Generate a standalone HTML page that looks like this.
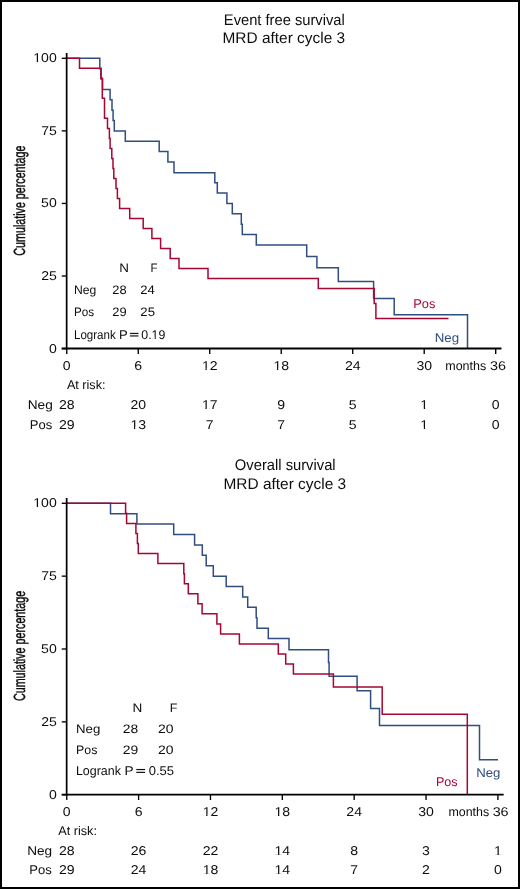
<!DOCTYPE html>
<html><head><meta charset="utf-8"><style>
html,body{margin:0;padding:0;background:#fff;}
#c{position:relative;width:520px;height:889px;box-sizing:border-box;border:2px solid #000;background:#fff;overflow:hidden;}
svg{position:absolute;left:-2px;top:-2px;will-change:transform;}
text{font-family:"Liberation Sans",sans-serif;text-rendering:geometricPrecision;}
</style></head><body><div id="c"><svg width="520" height="889" viewBox="0 0 520 889">
<path d="M66.75,58.30H99.80V68.66H101.00V79.03H102.60V89.39H110.10V99.78H112.00V110.15H113.10V120.51H114.30V130.88H125.30V141.24H159.20V151.60H167.90V161.97H174.00V172.65H214.80V182.72H217.30V193.09H226.90V203.45H232.30V213.81H241.30V224.18H242.30V234.54H256.30V244.93H306.70V256.50H316.90V267.80H338.30V281.50H373.60V298.60H394.20V314.70H467.50V348.60" fill="none" stroke="#304e80" stroke-width="1.5" stroke-linejoin="miter" stroke-linecap="butt"/>
<path d="M66.75,58.30H79.50V68.32H101.00V78.33H102.30V98.33H104.50V118.36H107.50V128.38H109.40V138.39H110.10V148.38H111.80V158.40H113.00V168.41H113.80V178.43H116.00V188.44H117.40V198.46H119.60V208.44H129.70V218.46H143.20V228.47H151.90V238.49H160.60V248.50H170.20V258.52H179.00V268.51H208.00V278.52H318.30V288.54H374.20V303.55H375.90V318.58H448.50" fill="none" stroke="#a50732" stroke-width="1.5" stroke-linejoin="miter" stroke-linecap="butt"/>
<line x1="66.65" y1="52.9" x2="66.65" y2="349.40000000000003" stroke="#000" stroke-width="1.7"/>
<line x1="61.75" y1="348.5" x2="501.5" y2="348.5" stroke="#000" stroke-width="1.8"/>
<line x1="61.75" y1="348.6" x2="66.75" y2="348.6" stroke="#000" stroke-width="1.35"/>
<line x1="61.75" y1="276.02500000000003" x2="66.75" y2="276.02500000000003" stroke="#000" stroke-width="1.35"/>
<line x1="61.75" y1="203.45000000000002" x2="66.75" y2="203.45000000000002" stroke="#000" stroke-width="1.35"/>
<line x1="61.75" y1="130.87500000000003" x2="66.75" y2="130.87500000000003" stroke="#000" stroke-width="1.35"/>
<line x1="61.75" y1="58.30000000000001" x2="66.75" y2="58.30000000000001" stroke="#000" stroke-width="1.35"/>
<line x1="66.75" y1="348.6" x2="66.75" y2="353.90000000000003" stroke="#000" stroke-width="1.35"/>
<line x1="138.24166666666667" y1="348.6" x2="138.24166666666667" y2="353.90000000000003" stroke="#000" stroke-width="1.35"/>
<line x1="209.73333333333332" y1="348.6" x2="209.73333333333332" y2="353.90000000000003" stroke="#000" stroke-width="1.35"/>
<line x1="281.225" y1="348.6" x2="281.225" y2="353.90000000000003" stroke="#000" stroke-width="1.35"/>
<line x1="352.71666666666664" y1="348.6" x2="352.71666666666664" y2="353.90000000000003" stroke="#000" stroke-width="1.35"/>
<line x1="424.2083333333333" y1="348.6" x2="424.2083333333333" y2="353.90000000000003" stroke="#000" stroke-width="1.35"/>
<line x1="495.7" y1="348.6" x2="495.7" y2="353.90000000000003" stroke="#000" stroke-width="1.35"/>
<path d="M66.75,503.30H110.50V513.70H136.90V524.11H173.70V534.51H194.60V544.94H202.30V555.34H206.20V565.75H213.30V576.15H226.20V586.55H242.70V596.96H247.70V607.36H256.20V617.79H257.00V628.19H268.30V638.60H289.00V649.80H328.50V662.60H329.10V676.30H357.10V690.70H370.60V708.40H379.50V725.50H479.50V759.80H498.00" fill="none" stroke="#304e80" stroke-width="1.5" stroke-linejoin="miter" stroke-linecap="butt"/>
<path d="M66.75,503.30H125.60V513.35H126.60V523.41H135.90V533.43H137.40V543.48H138.30V553.54H157.90V563.59H183.80V573.64H184.40V583.70H188.30V593.72H197.90V603.77H202.10V613.83H216.90V623.88H220.60V633.93H239.40V643.99H278.30V654.01H285.70V664.07H293.40V674.12H333.40V687.10H382.20V714.30H467.30V794.70" fill="none" stroke="#a50732" stroke-width="1.5" stroke-linejoin="miter" stroke-linecap="butt"/>
<line x1="66.65" y1="497.90000000000003" x2="66.65" y2="795.5" stroke="#000" stroke-width="1.7"/>
<line x1="61.75" y1="794.6" x2="503.7" y2="794.6" stroke="#000" stroke-width="1.8"/>
<line x1="61.75" y1="794.7" x2="66.75" y2="794.7" stroke="#000" stroke-width="1.35"/>
<line x1="61.75" y1="721.85" x2="66.75" y2="721.85" stroke="#000" stroke-width="1.35"/>
<line x1="61.75" y1="649.0" x2="66.75" y2="649.0" stroke="#000" stroke-width="1.35"/>
<line x1="61.75" y1="576.15" x2="66.75" y2="576.15" stroke="#000" stroke-width="1.35"/>
<line x1="61.75" y1="503.3" x2="66.75" y2="503.3" stroke="#000" stroke-width="1.35"/>
<line x1="66.75" y1="794.7" x2="66.75" y2="800.0" stroke="#000" stroke-width="1.35"/>
<line x1="138.60833333333332" y1="794.7" x2="138.60833333333332" y2="800.0" stroke="#000" stroke-width="1.35"/>
<line x1="210.46666666666664" y1="794.7" x2="210.46666666666664" y2="800.0" stroke="#000" stroke-width="1.35"/>
<line x1="282.325" y1="794.7" x2="282.325" y2="800.0" stroke="#000" stroke-width="1.35"/>
<line x1="354.1833333333333" y1="794.7" x2="354.1833333333333" y2="800.0" stroke="#000" stroke-width="1.35"/>
<line x1="426.0416666666667" y1="794.7" x2="426.0416666666667" y2="800.0" stroke="#000" stroke-width="1.35"/>
<line x1="497.9" y1="794.7" x2="497.9" y2="800.0" stroke="#000" stroke-width="1.35"/>
<g transform="translate(223.82,24.50) scale(0.9555,1)"><text font-size="15.4" fill="#0d0d0d">Event free survival</text></g>
<g transform="translate(222.52,43.00) scale(1.0020,1)"><text font-size="15.4" fill="#0d0d0d">MRD after cycle 3</text></g>
<g transform="translate(33.25,62.20) scale(1.1000,1)"><text font-size="12.8" fill="#0d0d0d">100</text><rect x="0.56" y="-1.26" width="2.64" height="2.16" fill="#fff"/><rect x="4.37" y="-1.26" width="2.57" height="2.16" fill="#fff"/></g>
<g transform="translate(41.13,134.78) scale(1.1000,1)"><text font-size="12.8" fill="#0d0d0d">75</text></g>
<g transform="translate(41.06,207.35) scale(1.1000,1)"><text font-size="12.8" fill="#0d0d0d">50</text></g>
<g transform="translate(41.13,279.93) scale(1.1000,1)"><text font-size="12.8" fill="#0d0d0d">25</text></g>
<g transform="translate(48.88,352.50) scale(1.1000,1)"><text font-size="12.8" fill="#0d0d0d">0</text></g>
<g transform="translate(66.75,369.70) scale(1.1000,1)"><text font-size="12.8" fill="#0d0d0d" text-anchor="middle">0</text></g>
<g transform="translate(138.24,369.70) scale(1.1000,1)"><text font-size="12.8" fill="#0d0d0d" text-anchor="middle">6</text></g>
<g transform="translate(209.73,369.70) scale(1.1000,1)"><text font-size="12.8" fill="#0d0d0d" text-anchor="middle">12</text><rect x="-6.56" y="-1.26" width="2.64" height="2.16" fill="#fff"/><rect x="-2.75" y="-1.26" width="2.57" height="2.16" fill="#fff"/></g>
<g transform="translate(281.23,369.70) scale(1.1000,1)"><text font-size="12.8" fill="#0d0d0d" text-anchor="middle">18</text><rect x="-6.56" y="-1.26" width="2.64" height="2.16" fill="#fff"/><rect x="-2.75" y="-1.26" width="2.57" height="2.16" fill="#fff"/></g>
<g transform="translate(352.72,369.70) scale(1.1000,1)"><text font-size="12.8" fill="#0d0d0d" text-anchor="middle">24</text></g>
<g transform="translate(424.21,369.70) scale(1.1000,1)"><text font-size="12.8" fill="#0d0d0d" text-anchor="middle">30</text></g>
<g transform="translate(445.29,369.80) scale(0.9908,1)"><text font-size="12.6" fill="#0d0d0d">months</text></g>
<g transform="translate(489.93,369.80) scale(1.1404,1)"><text font-size="12.6" fill="#0d0d0d">36</text></g>
<g transform="translate(66.90,389.00) scale(1.0038,1)"><text font-size="12.6" fill="#0d0d0d">At risk:</text></g>
<g transform="translate(27.71,409.20) scale(1.0848,1)"><text font-size="12.6" fill="#0d0d0d">Neg</text></g>
<g transform="translate(29.86,428.50) scale(1.0352,1)"><text font-size="12.6" fill="#0d0d0d">Pos</text></g>
<g transform="translate(66.75,409.20) scale(1.1000,1)"><text font-size="12.8" fill="#0d0d0d" text-anchor="middle">28</text></g>
<g transform="translate(138.24,409.20) scale(1.1000,1)"><text font-size="12.8" fill="#0d0d0d" text-anchor="middle">20</text></g>
<g transform="translate(209.73,409.20) scale(1.1000,1)"><text font-size="12.8" fill="#0d0d0d" text-anchor="middle">17</text><rect x="-6.56" y="-1.26" width="2.64" height="2.16" fill="#fff"/><rect x="-2.75" y="-1.26" width="2.57" height="2.16" fill="#fff"/></g>
<g transform="translate(281.23,409.20) scale(1.1000,1)"><text font-size="12.8" fill="#0d0d0d" text-anchor="middle">9</text></g>
<g transform="translate(352.72,409.20) scale(1.1000,1)"><text font-size="12.8" fill="#0d0d0d" text-anchor="middle">5</text></g>
<g transform="translate(424.21,409.20) scale(1.1000,1)"><text font-size="12.8" fill="#0d0d0d" text-anchor="middle">1</text><rect x="-3.00" y="-1.26" width="2.64" height="2.16" fill="#fff"/><rect x="0.81" y="-1.26" width="2.57" height="2.16" fill="#fff"/></g>
<g transform="translate(495.70,409.20) scale(1.1000,1)"><text font-size="12.8" fill="#0d0d0d" text-anchor="middle">0</text></g>
<g transform="translate(66.75,428.50) scale(1.1000,1)"><text font-size="12.8" fill="#0d0d0d" text-anchor="middle">29</text></g>
<g transform="translate(138.24,428.50) scale(1.1000,1)"><text font-size="12.8" fill="#0d0d0d" text-anchor="middle">13</text><rect x="-6.56" y="-1.26" width="2.64" height="2.16" fill="#fff"/><rect x="-2.75" y="-1.26" width="2.57" height="2.16" fill="#fff"/></g>
<g transform="translate(209.73,428.50) scale(1.1000,1)"><text font-size="12.8" fill="#0d0d0d" text-anchor="middle">7</text></g>
<g transform="translate(281.23,428.50) scale(1.1000,1)"><text font-size="12.8" fill="#0d0d0d" text-anchor="middle">7</text></g>
<g transform="translate(352.72,428.50) scale(1.1000,1)"><text font-size="12.8" fill="#0d0d0d" text-anchor="middle">5</text></g>
<g transform="translate(424.21,428.50) scale(1.1000,1)"><text font-size="12.8" fill="#0d0d0d" text-anchor="middle">1</text><rect x="-3.00" y="-1.26" width="2.64" height="2.16" fill="#fff"/><rect x="0.81" y="-1.26" width="2.57" height="2.16" fill="#fff"/></g>
<g transform="translate(495.70,428.50) scale(1.1000,1)"><text font-size="12.8" fill="#0d0d0d" text-anchor="middle">0</text></g>
<g transform="translate(119.23,272.00) scale(1.0889,1)"><text font-size="12.3" fill="#0d0d0d">N</text></g>
<g transform="translate(150.39,272.00) scale(0.9292,1)"><text font-size="12.3" fill="#0d0d0d">F</text></g>
<g transform="translate(73.88,294.10) scale(0.9886,1)"><text font-size="12.3" fill="#0d0d0d">Neg</text></g>
<g transform="translate(112.26,294.10) scale(1.0442,1)"><text font-size="12.3" fill="#0d0d0d">28</text></g>
<g transform="translate(140.35,294.10) scale(1.0577,1)"><text font-size="12.3" fill="#0d0d0d">24</text></g>
<g transform="translate(73.92,316.00) scale(0.9494,1)"><text font-size="12.3" fill="#0d0d0d">Pos</text></g>
<g transform="translate(112.25,316.00) scale(1.0493,1)"><text font-size="12.3" fill="#0d0d0d">29</text></g>
<g transform="translate(140.34,316.00) scale(1.0681,1)"><text font-size="12.3" fill="#0d0d0d">25</text></g>
<g transform="translate(73.98,338.60) scale(0.9171,1)"><text font-size="12.6" fill="#0d0d0d">Logrank</text></g>
<g transform="translate(119.05,338.60) scale(1.0384,1)"><text font-size="12.6" fill="#0d0d0d">P</text></g>
<rect x="129.90" y="332.85" width="8.60" height="3.65" fill="#0d0d0d" fill-opacity="0.08"/>
<rect x="129.90" y="332.85" width="8.60" height="1.1" fill="#0d0d0d"/>
<rect x="129.90" y="335.40" width="8.60" height="1.1" fill="#0d0d0d"/>
<g transform="translate(141.31,338.60) scale(0.9814,1)"><text font-size="12.6" fill="#0d0d0d">0.19</text><rect x="11.06" y="-1.24" width="2.60" height="2.14" fill="#fff"/><rect x="14.81" y="-1.24" width="2.53" height="2.14" fill="#fff"/></g>
<g transform="translate(413.17,307.70) scale(1.0204,1)"><text font-size="12.6" fill="#a50732">Pos</text></g>
<g transform="translate(434.63,342.30) scale(1.0566,1)"><text font-size="12.6" fill="#304e80">Neg</text></g>
<g transform="translate(234.84,469.90) scale(0.9579,1)"><text font-size="15.4" fill="#0d0d0d">Overall survival</text></g>
<g transform="translate(223.46,488.70) scale(1.0033,1)"><text font-size="15.4" fill="#0d0d0d">MRD after cycle 3</text></g>
<g transform="translate(33.25,507.20) scale(1.1000,1)"><text font-size="12.8" fill="#0d0d0d">100</text><rect x="0.56" y="-1.26" width="2.64" height="2.16" fill="#fff"/><rect x="4.37" y="-1.26" width="2.57" height="2.16" fill="#fff"/></g>
<g transform="translate(41.13,580.05) scale(1.1000,1)"><text font-size="12.8" fill="#0d0d0d">75</text></g>
<g transform="translate(41.06,652.90) scale(1.1000,1)"><text font-size="12.8" fill="#0d0d0d">50</text></g>
<g transform="translate(41.13,725.75) scale(1.1000,1)"><text font-size="12.8" fill="#0d0d0d">25</text></g>
<g transform="translate(48.88,798.60) scale(1.1000,1)"><text font-size="12.8" fill="#0d0d0d">0</text></g>
<g transform="translate(66.75,815.90) scale(1.1000,1)"><text font-size="12.8" fill="#0d0d0d" text-anchor="middle">0</text></g>
<g transform="translate(138.61,815.90) scale(1.1000,1)"><text font-size="12.8" fill="#0d0d0d" text-anchor="middle">6</text></g>
<g transform="translate(210.47,815.90) scale(1.1000,1)"><text font-size="12.8" fill="#0d0d0d" text-anchor="middle">12</text><rect x="-6.56" y="-1.26" width="2.64" height="2.16" fill="#fff"/><rect x="-2.75" y="-1.26" width="2.57" height="2.16" fill="#fff"/></g>
<g transform="translate(282.32,815.90) scale(1.1000,1)"><text font-size="12.8" fill="#0d0d0d" text-anchor="middle">18</text><rect x="-6.56" y="-1.26" width="2.64" height="2.16" fill="#fff"/><rect x="-2.75" y="-1.26" width="2.57" height="2.16" fill="#fff"/></g>
<g transform="translate(354.18,815.90) scale(1.1000,1)"><text font-size="12.8" fill="#0d0d0d" text-anchor="middle">24</text></g>
<g transform="translate(426.04,815.90) scale(1.1000,1)"><text font-size="12.8" fill="#0d0d0d" text-anchor="middle">30</text></g>
<g transform="translate(448.39,815.90) scale(0.9858,1)"><text font-size="12.6" fill="#0d0d0d">months</text></g>
<g transform="translate(492.63,815.90) scale(1.1404,1)"><text font-size="12.6" fill="#0d0d0d">36</text></g>
<g transform="translate(58.30,835.20) scale(1.0038,1)"><text font-size="12.6" fill="#0d0d0d">At risk:</text></g>
<g transform="translate(27.21,855.40) scale(1.0801,1)"><text font-size="12.6" fill="#0d0d0d">Neg</text></g>
<g transform="translate(29.26,874.40) scale(1.0352,1)"><text font-size="12.6" fill="#0d0d0d">Pos</text></g>
<g transform="translate(66.75,855.40) scale(1.1000,1)"><text font-size="12.8" fill="#0d0d0d" text-anchor="middle">28</text></g>
<g transform="translate(138.61,855.40) scale(1.1000,1)"><text font-size="12.8" fill="#0d0d0d" text-anchor="middle">26</text></g>
<g transform="translate(210.47,855.40) scale(1.1000,1)"><text font-size="12.8" fill="#0d0d0d" text-anchor="middle">22</text></g>
<g transform="translate(282.32,855.40) scale(1.1000,1)"><text font-size="12.8" fill="#0d0d0d" text-anchor="middle">14</text><rect x="-6.56" y="-1.26" width="2.64" height="2.16" fill="#fff"/><rect x="-2.75" y="-1.26" width="2.57" height="2.16" fill="#fff"/></g>
<g transform="translate(354.18,855.40) scale(1.1000,1)"><text font-size="12.8" fill="#0d0d0d" text-anchor="middle">8</text></g>
<g transform="translate(426.04,855.40) scale(1.1000,1)"><text font-size="12.8" fill="#0d0d0d" text-anchor="middle">3</text></g>
<g transform="translate(497.90,855.40) scale(1.1000,1)"><text font-size="12.8" fill="#0d0d0d" text-anchor="middle">1</text><rect x="-3.00" y="-1.26" width="2.64" height="2.16" fill="#fff"/><rect x="0.81" y="-1.26" width="2.57" height="2.16" fill="#fff"/></g>
<g transform="translate(66.75,874.40) scale(1.1000,1)"><text font-size="12.8" fill="#0d0d0d" text-anchor="middle">29</text></g>
<g transform="translate(138.61,874.40) scale(1.1000,1)"><text font-size="12.8" fill="#0d0d0d" text-anchor="middle">24</text></g>
<g transform="translate(210.47,874.40) scale(1.1000,1)"><text font-size="12.8" fill="#0d0d0d" text-anchor="middle">18</text><rect x="-6.56" y="-1.26" width="2.64" height="2.16" fill="#fff"/><rect x="-2.75" y="-1.26" width="2.57" height="2.16" fill="#fff"/></g>
<g transform="translate(282.32,874.40) scale(1.1000,1)"><text font-size="12.8" fill="#0d0d0d" text-anchor="middle">14</text><rect x="-6.56" y="-1.26" width="2.64" height="2.16" fill="#fff"/><rect x="-2.75" y="-1.26" width="2.57" height="2.16" fill="#fff"/></g>
<g transform="translate(354.18,874.40) scale(1.1000,1)"><text font-size="12.8" fill="#0d0d0d" text-anchor="middle">7</text></g>
<g transform="translate(426.04,874.40) scale(1.1000,1)"><text font-size="12.8" fill="#0d0d0d" text-anchor="middle">2</text></g>
<g transform="translate(497.90,874.40) scale(1.1000,1)"><text font-size="12.8" fill="#0d0d0d" text-anchor="middle">0</text></g>
<g transform="translate(132.61,711.60) scale(1.1034,1)"><text font-size="12.3" fill="#0d0d0d">N</text></g>
<g transform="translate(169.80,711.60) scale(1.0121,1)"><text font-size="12.3" fill="#0d0d0d">F</text></g>
<g transform="translate(76.04,733.00) scale(1.0776,1)"><text font-size="12.3" fill="#0d0d0d">Neg</text></g>
<g transform="translate(122.81,733.00) scale(1.1239,1)"><text font-size="12.3" fill="#0d0d0d">28</text></g>
<g transform="translate(157.90,733.00) scale(1.1342,1)"><text font-size="12.3" fill="#0d0d0d">20</text></g>
<g transform="translate(76.11,753.60) scale(1.0049,1)"><text font-size="12.3" fill="#0d0d0d">Pos</text></g>
<g transform="translate(122.81,753.60) scale(1.1294,1)"><text font-size="12.3" fill="#0d0d0d">29</text></g>
<g transform="translate(157.90,753.60) scale(1.1342,1)"><text font-size="12.3" fill="#0d0d0d">20</text></g>
<g transform="translate(75.90,774.80) scale(0.9724,1)"><text font-size="12.8" fill="#0d0d0d">Logrank</text></g>
<g transform="translate(124.51,774.80) scale(1.0660,1)"><text font-size="12.8" fill="#0d0d0d">P</text></g>
<rect x="136.30" y="768.95" width="8.80" height="4.00" fill="#0d0d0d" fill-opacity="0.08"/>
<rect x="136.30" y="768.95" width="8.80" height="1.1" fill="#0d0d0d"/>
<rect x="136.30" y="771.85" width="8.80" height="1.1" fill="#0d0d0d"/>
<g transform="translate(148.68,774.80) scale(1.0137,1)"><text font-size="12.8" fill="#0d0d0d">0.55</text></g>
<g transform="translate(435.89,785.80) scale(1.0007,1)"><text font-size="12.6" fill="#a50732">Pos</text></g>
<g transform="translate(476.14,776.50) scale(1.0472,1)"><text font-size="12.6" fill="#304e80">Neg</text></g>
<text transform="translate(25.00,255.64) rotate(-90) scale(0.6609,1)" font-size="16.2" fill="#0d0d0d" stroke="#0d0d0d" stroke-width="0.45">Cumulative percentage</text>
<text transform="translate(25.30,701.04) rotate(-90) scale(0.6621,1)" font-size="16.2" fill="#0d0d0d" stroke="#0d0d0d" stroke-width="0.45">Cumulative percentage</text>
</svg></div></body></html>
